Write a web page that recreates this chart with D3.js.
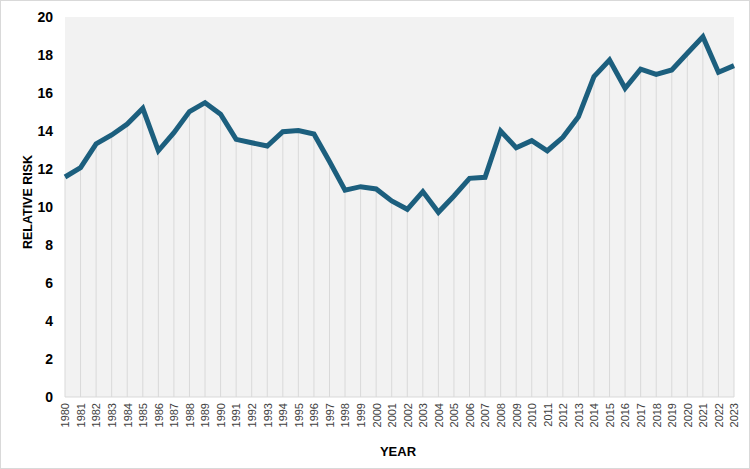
<!DOCTYPE html>
<html>
<head>
<meta charset="utf-8">
<script src="https://cdn.jsdelivr.net/npm/d3@7"></script>
<style>
  body{margin:0;background:#fff;font-family:"Liberation Sans",Arial,sans-serif;}
</style>
</head>
<body>
<script>
var years=[1980,1981,1982,1983,1984,1985,1986,1987,1988,1989,1990,1991,1992,1993,1994,1995,1996,1997,1998,1999,2000,2001,2002,2003,2004,2005,2006,2007,2008,2009,2010,2011,2012,2013,2014,2015,2016,2017,2018,2019,2020,2021,2022,2023];
var relativeRisk=[11.58,12.07,13.32,13.79,14.37,15.19,12.96,13.91,15.02,15.49,14.88,13.56,13.38,13.21,13.96,14.02,13.84,12.39,10.89,11.07,10.95,10.32,9.88,10.81,9.72,10.58,11.51,11.56,14.0,13.12,13.49,12.96,13.67,14.75,16.86,17.74,16.25,17.26,16.98,17.21,18.09,18.96,17.09,17.44];
var yTicks=[0,2,4,6,8,10,12,14,16,18,20];

var width=750,height=469;
var svg=d3.select('body').append('svg')
  .attr('width',width)
  .attr('height',height);

// outer frame
svg.append('rect')
  .attr('x',0.5).attr('y',0.5)
  .attr('width',width-1).attr('height',height-1)
  .style('fill','#fff')
  .style('stroke','#d9d9d9');

var x=d3.scalePoint().domain(years).range([65,734]);
var y=d3.scaleLinear().domain([0,20]).range([397,17]);

// plot background
svg.append('rect')
  .attr('x',x.range()[0])
  .attr('y',y(20))
  .attr('width',x.range()[1]-x.range()[0])
  .attr('height',y(0)-y(20))
  .style('fill','#f2f2f2');

var data=years.map((d,i)=>({year:d,value:relativeRisk[i]}));

// drop lines
svg.append('g').selectAll('line')
  .data(data)
  .enter()
  .append('line')
  .attr('x1',d=>x(d.year)).attr('x2',d=>x(d.year))
  .attr('y1',d=>y(d.value)).attr('y2',y(0))
  .style('stroke','#d9d9d9')
  .style('stroke-width',1);

// baseline
svg.append('line')
  .attr('x1',x.range()[0]).attr('x2',x.range()[1])
  .attr('y1',y(0)).attr('y2',y(0))
  .style('stroke','#d9d9d9');

// y tick labels
var yAxis=d3.axisLeft(y).tickValues(yTicks).tickSize(0).tickPadding(12);
var yg=svg.append('g')
  .attr('transform','translate('+x.range()[0]+',0)')
  .call(yAxis);
yg.select('.domain').remove();
yg.selectAll('text')
  .style('font-family','"Liberation Sans",Arial,sans-serif')
  .style('font-size','14px')
  .style('font-weight','bold')
  .style('fill','#000');

// x tick labels
var xAxis=d3.axisBottom(x).tickSize(0).tickPadding(0);
var xg=svg.append('g')
  .attr('transform','translate(0,'+y(0)+')')
  .call(xAxis);
xg.select('.domain').remove();
xg.selectAll('text')
  .attr('transform','rotate(-90)')
  .attr('x',-6)
  .attr('y',0)
  .attr('dy','0.35em')
  .style('text-anchor','end')
  .style('font-family','"Liberation Sans",Arial,sans-serif')
  .style('font-size','11px')
  .style('fill','#404040');

// line
svg.append('path')
  .datum(data)
  .attr('d',d3.line().x(d=>x(d.year)).y(d=>y(d.value)))
  .style('fill','none')
  .style('stroke','#1c5f7e')
  .style('stroke-width',5)
  .style('stroke-linejoin','miter');

// axis titles
svg.append('text')
  .attr('transform','translate(32,202) rotate(-90)')
  .style('text-anchor','middle')
  .style('font-size','12.5px')
  .style('font-weight','bold')
  .text('RELATIVE RISK');

svg.append('text')
  .attr('x',398)
  .attr('y',456)
  .style('text-anchor','middle')
  .style('font-size','13px')
  .style('font-weight','bold')
  .text('YEAR');
</script>
</body>
</html>
